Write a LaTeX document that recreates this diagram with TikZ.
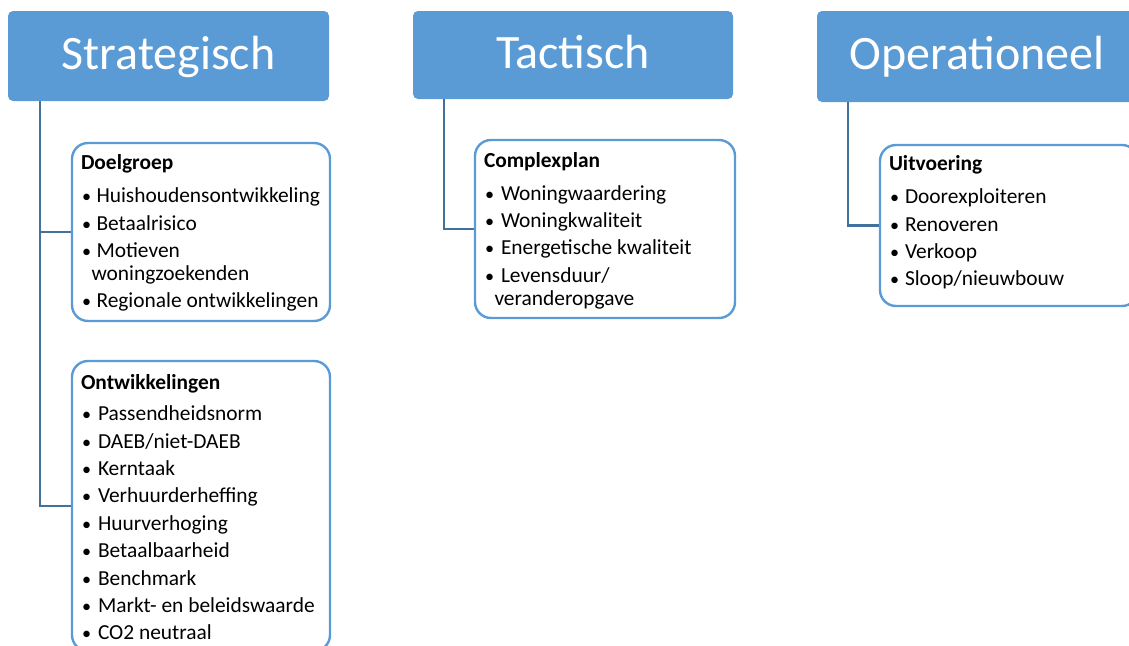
\documentclass[tikz,border=0pt]{standalone}
\usepackage{fontspec}
\setmainfont{Carlito}
\usetikzlibrary{calc}

\definecolor{hdrblue}{RGB}{91,155,213}
\definecolor{edgeblue}{RGB}{91,155,213}
\definecolor{linkblue}{RGB}{65,113,156}

% bullet item: bullet in a fixed-width slot, then the text
\newlength\bulw
\setlength\bulw{15.5pt}
\newcommand\itm[1]{\makebox[\bulw][l]{\hspace{1pt}\scalebox{0.85}{•}}#1}
\newcommand\cont[1]{\hspace*{10.5pt}#1}
\newcommand\listtext[1]{\parbox[t]{250pt}{\fontsize{21.4}{22.8}\selectfont #1}}

\begin{document}
\begin{tikzpicture}[x=1pt,y=-1pt,
  hdr/.style={fill=hdrblue, rounded corners=5pt, inner sep=0pt, text=white,
    font=\fontsize{48}{56}\selectfont, text height=30pt, text depth=4pt},
  itembox/.style={draw=edgeblue, line width=2.4pt, fill=white,
    rounded corners=16pt, inner sep=0pt},
  link/.style={draw=linkblue, line width=2.4pt},
  content/.style={anchor=base west, inner sep=0pt}]
\useasboundingbox (0,0) rectangle (1129,645);

% level headers
\node[hdr, minimum width=321pt, minimum height=90pt] (strat) at (168.5,56) {Strategisch};
\node[hdr, minimum width=320pt, minimum height=88pt] (tact) at (573,55) {Tactisch};
\node[hdr, minimum width=320pt, minimum height=91pt] (oper) at (977,56.5) {Operationeel};

% connectors from each header to its boxes
\draw[link] ($(strat.south west)+(32,0)$) |- (201,232);
\draw[link] ($(strat.south west)+(32,0)$) |- (201,506);
\draw[link] ($(tact.south west)+(31,0)$) |- (605,229);
\draw[link] ($(oper.south west)+(31,0)$) |- (1009,225.5);

% content boxes
\node[itembox, minimum width=258pt, minimum height=178pt] (doel) at (201,232) {};
\node[itembox, minimum width=258pt, minimum height=290pt] (ontw) at (201,506) {};
\node[itembox, minimum width=260pt, minimum height=178pt] (compl) at (605,229) {};
\node[itembox, minimum width=258pt, minimum height=161pt] (uitv) at (1009,225.5) {};

\node[content] (doeltxt) at ($(doel.north west)+(10,28)$) {\listtext{%
\textbf{Doelgroep}\\[10pt]
\itm{Huishoudensontwikkeling}\\[4.6pt]
\itm{Betaalrisico}\\[4.6pt]
\itm{Motieven}\\
\cont{woningzoekenden}\\[4.6pt]
\itm{Regionale ontwikkelingen}}};

\node[content] (ontwtxt) at ($(ontw.north west)+(10,30)$) {\setlength\bulw{17pt}\listtext{%
\textbf{Ontwikkelingen}\\[8pt]
\itm{Passendheidsnorm}\\[4.6pt]
\itm{DAEB/niet-DAEB}\\[4.6pt]
\itm{Kerntaak}\\[4.6pt]
\itm{Verhuurderheffing}\\[4.6pt]
\itm{Huurverhoging}\\[4.6pt]
\itm{Betaalbaarheid}\\[4.6pt]
\itm{Benchmark}\\[4.6pt]
\itm{Markt- en beleidswaarde}\\[4.6pt]
\itm{CO2 neutraal}}};

\node[content] (compltxt) at ($(compl.north west)+(10,28.5)$) {\setlength\bulw{17pt}\listtext{%
\textbf{Complexplan}\\[10pt]
\itm{Woningwaardering}\\[4.6pt]
\itm{Woningkwaliteit}\\[4.6pt]
\itm{Energetische kwaliteit}\\[4.6pt]
\itm{Levensduur/}\\
\cont{veranderopgave}}};

\node[content] (uitvtxt) at ($(uitv.north west)+(10,27)$) {\setlength\bulw{16pt}\listtext{%
\textbf{Uitvoering}\\[10pt]
\itm{Doorexploiteren}\\[4.6pt]
\itm{Renoveren}\\[4.6pt]
\itm{Verkoop}\\[4.6pt]
\itm{Sloop/nieuwbouw}}};
\end{tikzpicture}
\end{document}
